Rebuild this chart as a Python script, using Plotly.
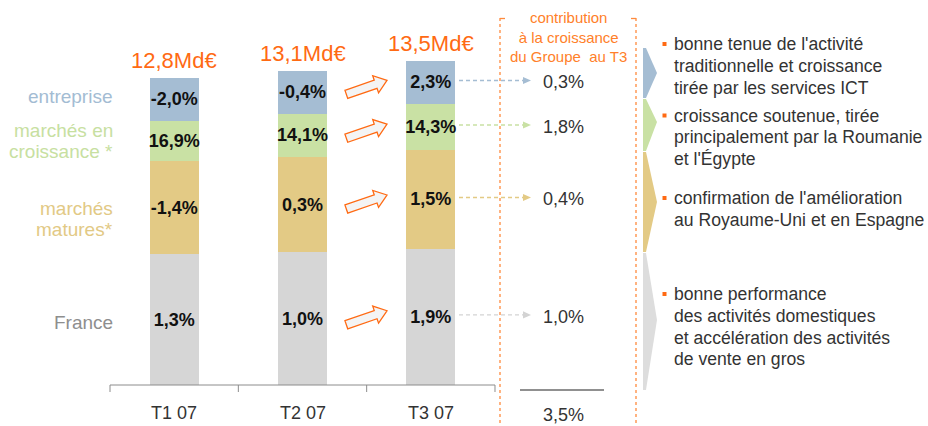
import math
import plotly.graph_objects as go

# ---------------- data ----------------
categories = ["T1 07", "T2 07", "T3 07"]
totals = [12.8, 13.1, 13.5]
totals_text = ["12,8Md€", "13,1Md€", "13,5Md€"]

france = [5.45, 5.54, 5.67]
matures = [3.88, 3.96, 4.12]
croissance = [1.67, 1.80, 1.92]
entreprise = [1.80, 1.80, 1.79]

france_growth = ["1,3%", "1,0%", "1,9%"]
matures_growth = ["-1,4%", "0,3%", "1,5%"]
croissance_growth = ["16,9%", "14,1%", "14,3%"]
entreprise_growth = ["-2,0%", "-0,4%", "2,3%"]

contribution = ["1,0%", "0,4%", "1,8%", "0,3%"]  # France, matures, croissance, entreprise
contribution_total = "3,5%"

segment_labels = [["France"], ["marchés", "matures*"], ["marchés en", "croissance *"], ["entreprise"]]
comments = [
    ["bonne performance", "des activités domestiques", "et accélération des activités", "de vente en gros"],
    ["confirmation de l'amélioration", "au Royaume-Uni et en Espagne"],
    ["croissance soutenue, tirée", "principalement par la Roumanie", "et l'Égypte"],
    ["bonne tenue de l'activité", "traditionnelle et croissance", "tirée par les services ICT"],
]
header_text = "contribution<br>à la croissance<br>du Groupe  au T3"

# ---------------- styles ----------------
colors = ["#D6D6D6", "#E3CA85", "#C9E1A4", "#A5BDD3"]
label_colors = ["#8E8E8E", "#E2C985", "#C7E0A1", "#A3BCD3"]
guide_colors = ["#D3D3D3", "#E3CA85", "#C9E1A4", "#A5BDD3"]
chev_colors = ["#DDDDDD", "#E3CA85", "#C9E1A4", "#A5BDD3"]
ORANGE = "#FF6A13"
FONT = "Liberation Sans, Arial, sans-serif"
W, H = 928, 426

# pixel <-> data mapping (plot area covers the whole page)
AX_LEFT = 110.0
CAT_PX = 128.33
BASE = 385.0
PPU = 24.0


def px2x(px):
    return (px - AX_LEFT) / CAT_PX - 0.5


def px2y(py):
    return (BASE - py) / PPU


def x2px(x):
    return AX_LEFT + (x + 0.5) * CAT_PX


def y2px(y):
    return BASE - y * PPU


series = [france, matures, croissance, entreprise]
texts = [france_growth, matures_growth, croissance_growth, entreprise_growth]
names = ["France", "marchés matures", "marchés en croissance", "entreprise"]
xs = list(range(len(categories)))

fig = go.Figure()
for s, t, c, n in zip(series, texts, colors, names):
    fig.add_trace(go.Bar(
        x=xs, y=s, width=0.38, name=n, marker=dict(color=c, line=dict(width=0)),
        text=t, textposition="inside", insidetextanchor="middle", textangle=0,
        constraintext="none",
        textfont=dict(family=FONT, size=18, color="#111111", weight="bold"),
        hoverinfo="skip", showlegend=False,
    ))


def mids(idx):
    out = []
    for k in range(len(categories)):
        base = sum(series[j][k] for j in range(idx))
        out.append(base + series[idx][k] / 2)
    return out


shapes = []
ann = []

# axis line + ticks
shapes.append(dict(type="line", xref="x", yref="y", x0=-0.5, x1=len(categories) - 0.5, y0=0, y1=0,
                   line=dict(color="#8C8C8C", width=1)))
for k in range(len(categories) + 1):
    shapes.append(dict(type="line", xref="x", yref="y", x0=k - 0.5, x1=k - 0.5, y0=0, y1=px2y(BASE + 7),
                       line=dict(color="#8C8C8C", width=1)))
for k, c in enumerate(categories):
    ann.append(dict(x=k, y=px2y(413), text=c, showarrow=False,
                    font=dict(family=FONT, size=18, color="#333333")))

# totals
for k, t in enumerate(totals_text):
    ann.append(dict(x=k, y=totals[k], text=t, showarrow=False, yanchor="middle", yshift=17.5,
                    font=dict(family=FONT, size=22, color=ORANGE)))

# left labels
label_y = [322, 219, 141, 96]
for i, lines in enumerate(segment_labels):
    n = len(lines)
    for j, line in enumerate(lines):
        py = label_y[i] + (j - (n - 1) / 2) * 21
        ann.append(dict(x=px2x(115), y=px2y(py), text=line, showarrow=False, xanchor="right",
                        font=dict(family=FONT, size=19, color=label_colors[i])))


def block_arrow(cx, cy, ang=19, L=43, sw=4.3, hw=9.0, hl=12.0):
    a = math.radians(ang)
    loc = [(-L / 2, -sw), (L / 2 - hl, -sw), (L / 2 - hl, -hw), (L / 2, 0),
           (L / 2 - hl, hw), (L / 2 - hl, sw), (-L / 2, sw)]
    pts = []
    for u, v in loc:
        px = cx + u * math.cos(a) + v * math.sin(a)
        py = cy - u * math.sin(a) + v * math.cos(a)
        pts.append((px2x(px), px2y(py)))
    return "M " + " L ".join(f"{x:.4f},{y:.4f}" for x, y in pts) + " Z"


for i in range(4):
    m = mids(i)
    cy = (y2px(m[1]) + y2px(m[2])) / 2
    shapes.append(dict(type="path", xref="x", yref="y", path=block_arrow(x2px(1.5), cy),
                       fillcolor="#F4F4F4", line=dict(color=ORANGE, width=1.3)))

# dashed guides + contribution values
for i in range(4):
    ym = mids(i)[2]
    py = y2px(ym) - 2
    shapes.append(dict(type="line", xref="x", yref="y", x0=px2x(459), x1=px2x(524), y0=px2y(py), y1=px2y(py),
                       line=dict(color=guide_colors[i], width=1.3, dash="4px,3px")))
    tri = f"M {px2x(523):.4f},{px2y(py-3.6):.4f} L {px2x(531):.4f},{px2y(py):.4f} L {px2x(523):.4f},{px2y(py+3.6):.4f} Z"
    shapes.append(dict(type="path", xref="x", yref="y", path=tri, fillcolor=guide_colors[i],
                       line=dict(width=0)))
    ann.append(dict(x=px2x(563), y=ym, text=contribution[i], showarrow=False,
                    font=dict(family=FONT, size=18, color="#333333")))

# contribution box (dashed orange)
for xpx, dx in [(500, 5), (636, -5)]:
    shapes.append(dict(type="line", xref="x", yref="y", x0=px2x(xpx), x1=px2x(xpx), y0=px2y(18), y1=px2y(426),
                       line=dict(color="#FF8A3D", width=1.3, dash="3px,3px")))
    shapes.append(dict(type="line", xref="x", yref="y", x0=px2x(xpx), x1=px2x(xpx + dx), y0=px2y(18.5), y1=px2y(18.5),
                       line=dict(color="#FF8A3D", width=1.3)))
ann.append(dict(x=px2x(568), y=px2y(37), text=header_text, showarrow=False,
                font=dict(family=FONT, size=15, color="#FF7F2A")))

# total contribution
shapes.append(dict(type="line", xref="x", yref="y", x0=px2x(520), x1=px2x(604), y0=px2y(390), y1=px2y(390),
                   line=dict(color="#222222", width=1.2)))
ann.append(dict(x=px2x(563), y=px2y(415), text=contribution_total, showarrow=False,
                font=dict(family=FONT, size=18, color="#333333")))

# chevrons
chev = [(253, 320, 390), (152, 202, 252), (99, 122, 151), (48, 73, 98)]
for i, (top, tip, bot) in enumerate(chev):
    p = [(643, top), (646, top), (657, tip), (646, bot), (643, bot)]
    path = "M " + " L ".join(f"{px2x(a):.4f},{px2y(b):.4f}" for a, b in p) + " Z"
    shapes.append(dict(type="path", xref="x", yref="y", path=path, fillcolor=chev_colors[i],
                       line=dict(width=0)))

# comments with bullets
block_start = [294, 198, 115.5, 44]
for i, lines in enumerate(comments):
    y0 = block_start[i]
    shapes.append(dict(type="rect", xref="x", yref="y", x0=px2x(662.5), x1=px2x(666.5),
                       y0=px2y(y0 - 2), y1=px2y(y0 + 2), fillcolor=ORANGE, line=dict(width=0)))
    for j, line in enumerate(lines):
        ann.append(dict(x=px2x(671.5), y=px2y(y0 + j * 21.8), text=line, showarrow=False, xanchor="left",
                        font=dict(family=FONT, size=17.6, color="#333333")))

fig.update_layout(
    width=W, height=H, barmode="stack",
    margin=dict(l=0, r=0, t=0, b=0),
    plot_bgcolor="white", paper_bgcolor="white",
    xaxis=dict(range=[px2x(0), px2x(W)], visible=False, fixedrange=True),
    yaxis=dict(range=[px2y(H), px2y(0)], visible=False, fixedrange=True),
    shapes=shapes, annotations=ann, showlegend=False,
)

fig.write_html(
    "out.html",
    config={"displayModeBar": False},
    post_script="document.body.style.margin='0';document.body.style.overflow='hidden';",
)
